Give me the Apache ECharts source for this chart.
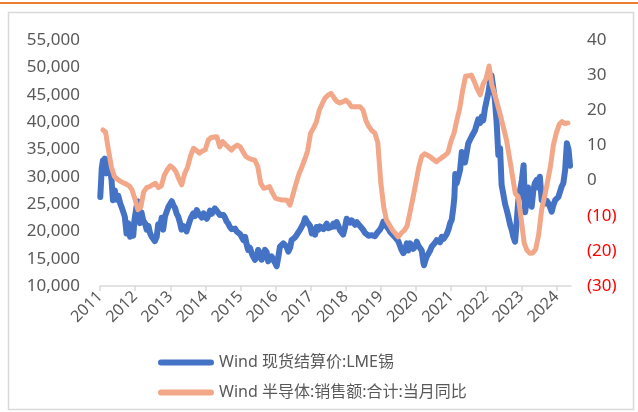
<!DOCTYPE html>
<html>
<head>
<meta charset="utf-8">
<script src="https://cdn.jsdelivr.net/npm/echarts@6/dist/echarts.min.js"></script>
<style>
  html, body { margin: 0; padding: 0; background: #fff; }
  #chart { width: 638px; height: 412px; }
</style>
</head>
<body>
<div id="chart"></div>
<script>
// LME tin settlement price (USD/t), sampled roughly twice a month
const tin2011 = [['2011-01-04',26300],['2011-01-12',29000],['2011-01-19',31500],['2011-02-01',33000],['2011-02-12',31000],['2011-02-22',33300],['2011-03-10',30600],['2011-03-25',33000],['2011-04-13',31800],['2011-05-01',29400],['2011-05-16',25700],['2011-06-04',27500],['2011-06-22',25800],['2011-07-10',26500],['2011-08-01',25000],['2011-08-13',24500],['2011-09-01',23500],['2011-09-16',22700],['2011-10-04',19600],['2011-10-22',21500],['2011-11-10',19000],['2011-12-01',20500],['2011-12-13',19200],['2011-12-25',22000]];
const tin2012 = [['2012-01-16',24500],['2012-02-01',25500],['2012-02-22',21500],['2012-03-07',23500],['2012-03-25',22000],['2012-04-13',21500],['2012-05-01',20300],['2012-05-19',21000],['2012-06-04',19700],['2012-06-22',19000],['2012-07-10',18800],['2012-07-25',18200],['2012-08-13',19000],['2012-08-28',21300],['2012-09-16',20800],['2012-10-04',22500],['2012-10-19',20300],['2012-11-07',22700],['2012-11-25',23000],['2012-12-13',24500]];
const tin2013 = [['2013-01-01',24800],['2013-01-16',25500],['2013-02-04',24700],['2013-02-19',24300],['2013-03-07',23300],['2013-03-25',22700],['2013-04-13',21500],['2013-04-28',20300],['2013-05-16',21000],['2013-06-04',20800],['2013-06-19',20000],['2013-07-07',20300],['2013-07-25',22000],['2013-08-13',22800],['2013-08-28',23300],['2013-09-16',22800],['2013-10-04',23900],['2013-10-19',23300],['2013-11-07',22900],['2013-11-25',22500],['2013-12-13',23300],['2013-12-28',23600]];
const tin2014 = [['2014-01-16',22300],['2014-02-04',23000],['2014-02-19',23800],['2014-03-07',23200],['2014-03-25',23600],['2014-04-10',24200],['2014-04-28',23800],['2014-05-16',23400],['2014-06-01',23000],['2014-06-19',22700],['2014-07-07',23000],['2014-07-22',22600],['2014-08-10',21800],['2014-08-28',21400],['2014-09-13',20800],['2014-10-01',20400],['2014-10-19',20200],['2014-11-07',20500],['2014-11-22',20000],['2014-12-10',20200],['2014-12-28',19500]];
const tin2015 = [['2015-01-13',19000],['2015-02-01',18400],['2015-02-19',19000],['2015-03-04',17800],['2015-03-22',16600],['2015-04-10',17000],['2015-04-28',16000],['2015-05-13',15400],['2015-06-01',14800],['2015-06-19',15200],['2015-07-04',16600],['2015-07-22',15800],['2015-08-10',14800],['2015-08-28',15000],['2015-09-13',16600],['2015-10-01',16200],['2015-10-16',14500],['2015-11-04',15000],['2015-11-22',15400],['2015-12-10',14800],['2015-12-25',14300]];
const tin2016 = [['2016-01-13',13600],['2016-02-01',15500],['2016-02-16',17200],['2016-03-04',17000],['2016-03-22',17800],['2016-04-07',18100],['2016-04-25',17200],['2016-05-13',16300],['2016-06-01',17000],['2016-06-16',18400],['2016-07-04',18400],['2016-07-22',18900],['2016-08-07',19300],['2016-08-25',19800],['2016-09-13',20300],['2016-10-01',20900],['2016-10-19',21500],['2016-11-04',22400],['2016-11-22',21800],['2016-12-07',21500],['2016-12-25',21000]];
const tin2017 = [['2017-01-13',19600],['2017-02-01',20300],['2017-02-16',19400],['2017-03-04',20800],['2017-03-22',20300],['2017-04-07',20900],['2017-04-25',20800],['2017-05-13',20400],['2017-06-01',20500],['2017-06-16',21400],['2017-07-04',20600],['2017-07-19',20300],['2017-08-07',20800],['2017-08-25',21400],['2017-09-10',20900],['2017-09-28',21700],['2017-10-16',21000],['2017-11-01',20200],['2017-11-19',19900],['2017-12-04',19400],['2017-12-22',20600]];
const tin2018 = [['2018-01-10',22300],['2018-01-28',22400],['2018-02-16',21600],['2018-03-04',22000],['2018-03-22',21800],['2018-04-07',21200],['2018-04-25',21700],['2018-05-10',21400],['2018-05-28',21000],['2018-06-16',20800],['2018-07-04',20200],['2018-07-19',19700],['2018-08-07',19600],['2018-08-25',19200],['2018-09-13',19500],['2018-09-28',19300],['2018-10-16',19200],['2018-11-01',19100],['2018-11-19',19600],['2018-12-04',19300],['2018-12-22',20300]];
const tin2019 = [['2019-01-10',20900],['2019-01-28',21800],['2019-02-13',21300],['2019-03-01',20900],['2019-03-19',20500],['2019-04-04',20000],['2019-04-22',19600],['2019-05-10',19600],['2019-05-25',19000],['2019-06-13',18800],['2019-07-01',18200],['2019-07-16',17500],['2019-08-04',16600],['2019-08-22',16000],['2019-09-10',16600],['2019-09-28',17800],['2019-10-13',16500],['2019-11-01',17800],['2019-11-19',17200],['2019-12-04',16800],['2019-12-22',17200]];
const tin2020 = [['2020-01-10',18100],['2020-01-25',17400],['2020-02-13',17200],['2020-03-01',16500],['2020-03-19',14200],['2020-03-25',13800],['2020-04-07',14600],['2020-04-22',15400],['2020-05-10',15700],['2020-05-25',16400],['2020-06-13',17200],['2020-07-01',17500],['2020-07-16',17900],['2020-08-04',18400],['2020-08-22',18200],['2020-09-07',18000],['2020-09-25',19000],['2020-10-13',18600],['2020-10-28',18800],['2020-11-16',19500],['2020-12-04',20300],['2020-12-22',21500]];
const tin2021 = [['2021-01-07',22100],['2021-01-25',24500],['2021-02-04',26300],['2021-02-13',30500],['2021-02-28',28800],['2021-03-16',29000],['2021-04-04',31200],['2021-04-22',34500],['2021-05-07',33000],['2021-05-25',32600],['2021-06-13',34500],['2021-06-28',36100],['2021-07-16',36400],['2021-08-01',37300],['2021-08-19',37000],['2021-09-07',38500],['2021-09-22',38800],['2021-10-10',40500],['2021-10-28',39800],['2021-11-16',41000],['2021-12-01',40300],['2021-12-19',42500]];
const tin2022 = [['2022-01-07',42300],['2022-01-25',45500],['2022-02-10',47400],['2022-02-25',48500],['2022-03-16',46200],['2022-04-01',44000],['2022-04-19',40000],['2022-05-07',34000],['2022-05-25',35200],['2022-06-10',28500],['2022-06-28',26800],['2022-07-16',25000],['2022-08-01',24000],['2022-08-19',22700],['2022-09-07',21200],['2022-09-25',20200],['2022-10-10',19000],['2022-10-28',18100],['2022-11-13',21500],['2022-12-01',25700],['2022-12-19',26000]];
const tin2023 = [['2023-01-07',29400],['2023-01-25',32100],['2023-02-10',23500],['2023-02-28',26000],['2023-03-13',28000],['2023-04-01',25700],['2023-04-19',24500],['2023-05-07',27600],['2023-05-22',28800],['2023-06-10',29400],['2023-06-28',28000],['2023-07-13',30000],['2023-08-01',25700],['2023-08-19',25800],['2023-09-04',25100],['2023-09-22',25600],['2023-10-10',25100],['2023-10-25',24500],['2023-11-13',23600],['2023-12-01',24800],['2023-12-19',25700]];
const tin2024 = [['2024-01-04',25400],['2024-01-22',26300],['2024-02-10',26300],['2024-02-25',28200],['2024-03-13',28800],['2024-04-01',31200],['2024-04-19',36100],['2024-05-07',34900],['2024-05-22',32000]];

// Semiconductor sales, monthly year-on-year change (%), January to December
const semi2011 = [14.4, 13.8, 8.5, 3.8, 1.2, 0.4, -0.2, -0.6, -1.0, -1.5, -2.6, -5.3];
const semi2012 = [-8.3, -7.6, -3.2, -2.0, -1.7, -1.2, -0.8, -2.0, -1.5, 1.5, 3.0, 4.2];
const semi2013 = [3.6, 2.6, 0.5, -1.2, 2.0, 3.8, 7.0, 9.2, 8.6, 7.8, 8.4, 8.8];
const semi2014 = [11.5, 12.2, 12.4, 12.5, 9.6, 11.1, 10.2, 9.4, 8.7, 9.6, 10.1, 9.6];
const semi2015 = [8.0, 6.8, 6.3, 6.0, 5.8, 4.0, -0.8, -2.2, -2.0, -1.7, -3.5, -5.0];
const semi2016 = [-5.3, -5.5, -5.5, -5.6, -7.0, -4.0, -1.0, 1.8, 3.8, 6.0, 8.5, 13.5];
const semi2017 = [15.0, 16.6, 20.0, 21.8, 23.5, 24.3, 24.8, 23.6, 22.5, 22.1, 22.4, 22.9];
const semi2018 = [22.2, 21.0, 21.0, 21.0, 21.0, 20.0, 17.0, 15.3, 14.2, 13.5, 10.8, -0.5];
const semi2019 = [-7.6, -11.2, -12.6, -14.0, -15.0, -16.0, -15.0, -14.2, -13.0, -9.0, -5.0, -0.7];
const semi2020 = [3.8, 6.8, 7.6, 7.2, 6.7, 6.0, 5.4, 6.0, 6.6, 7.2, 8.0, 11.2];
const semi2021 = [13.5, 17.0, 20.5, 25.5, 29.7, 29.8, 30.0, 28.1, 26.0, 24.4, 27.5, 29.0];
const semi2022 = [32.6, 27.3, 24.5, 21.5, 18.3, 15.0, 11.5, 6.5, 1.5, -3.7, -4.6, -11.0];
const semi2023 = [-17.8, -19.8, -20.7, -20.6, -19.5, -15.5, -8.4, -4.5, -0.5, 4.0, 10.0, 13.5];
const semi2024 = [16.0, 16.8, 16.2, 16.4];

const seriesNames = ['Wind 现货结算价:LME锡', 'Wind 半导体:销售额:合计:当月同比'];
const startYear = 2011;

const tinSeries = [].concat(tin2011, tin2012, tin2013, tin2014, tin2015, tin2016, tin2017,
  tin2018, tin2019, tin2020, tin2021, tin2022, tin2023, tin2024);

// monthly values are stamped on the last day of their month
const semiYears = [semi2011, semi2012, semi2013, semi2014, semi2015, semi2016, semi2017,
  semi2018, semi2019, semi2020, semi2021, semi2022, semi2023, semi2024];
const semiSeries = [];
semiYears.forEach((vals, yi) => {
  vals.forEach((v, mi) => {
    const d = new Date(Date.UTC(startYear + yi, mi + 1, 0));
    semiSeries.push([d.toISOString().slice(0, 10), v]);
  });
});

const FONT = '"Noto Sans", "Noto Sans CJK SC", sans-serif';
const GREY = '#595959';
const BLUE = '#4472C4';
const ORANGE = '#F2A788';
const YEAR = 365 * 24 * 3600 * 1000;

const chart = echarts.init(document.getElementById('chart'), null, { renderer: 'canvas' });
chart.setOption({
  animation: false,
  backgroundColor: '#ffffff',
  textStyle: { fontFamily: FONT },
  graphic: [
    { type: 'line', silent: true, shape: { x1: 0, y1: 3, x2: 638, y2: 3 },
      style: { stroke: '#ED7D31', lineWidth: 2 } },
    { type: 'rect', silent: true, z: -10, shape: { x: 8.5, y: 12.5, width: 625, height: 397 },
      style: { fill: 'none', stroke: '#D9D9D9', lineWidth: 1.5 } }
  ],
  grid: { left: 100, right: 67, top: 40, bottom: 126 },
  legend: {
    orient: 'vertical',
    left: 153,
    top: 348,
    itemWidth: 56,
    itemHeight: 6,
    itemGap: 11,
    icon: 'path://M3 0H53A3 3 0 0 1 53 6H3A3 3 0 0 1 3 0Z',
    textStyle: { fontSize: 16, color: GREY, fontFamily: FONT, lineHeight: 19 },
    data: seriesNames
  },
  xAxis: {
    type: 'time',
    min: '2011-01-01',
    max: '2024-06-01',
    splitNumber: 14,
    minInterval: YEAR,
    maxInterval: YEAR,
    axisLine: { onZero: false, lineStyle: { color: '#D9D9D9', width: 1.5 } },
    axisTick: { show: true, length: 5, lineStyle: { color: '#D9D9D9', width: 1.5 } },
    splitLine: { show: false },
    axisLabel: {
      rotate: 45,
      margin: 8,
      showMinLabel: true,
      formatter: '{yyyy}',
      color: GREY,
      fontSize: 16,
      fontFamily: FONT
    }
  },
  yAxis: [
    {
      type: 'value',
      min: 10000,
      max: 55000,
      interval: 5000,
      axisLine: { show: false },
      axisTick: { show: false },
      splitLine: { show: false },
      axisLabel: {
        margin: 20,
        color: GREY,
        fontSize: 17,
        fontFamily: FONT,
        formatter: v => Number(v).toLocaleString('en-US')
      }
    },
    {
      type: 'value',
      position: 'right',
      min: -30,
      max: 40,
      interval: 10,
      axisLine: { show: false },
      axisTick: { show: false },
      splitLine: { show: false },
      axisLabel: {
        margin: 16,
        fontSize: 17,
        fontFamily: FONT,
        formatter: v => (v < 0 ? '(' + (-v) + ')' : String(v)),
        color: v => (Number(v) < 0 ? '#FF0000' : GREY)
      }
    }
  ],
  series: [
    {
      name: seriesNames[0],
      type: 'line',
      yAxisIndex: 0,
      data: tinSeries,
      color: BLUE,
      showSymbol: false,
      symbol: 'none',
      lineStyle: { color: BLUE, width: 6, cap: 'round', join: 'round' },
      z: 2
    },
    {
      name: seriesNames[1],
      type: 'line',
      yAxisIndex: 1,
      data: semiSeries,
      color: ORANGE,
      showSymbol: false,
      symbol: 'none',
      lineStyle: { color: ORANGE, width: 5, cap: 'round', join: 'round' },
      z: 3
    }
  ]
});
</script>
</body>
</html>
